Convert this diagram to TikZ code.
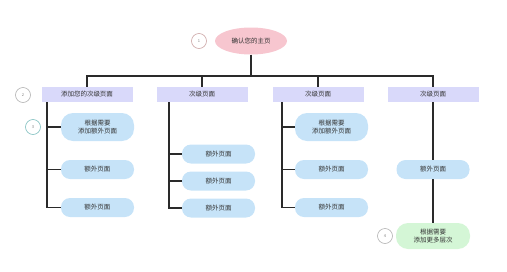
\documentclass[tikz,border=0pt]{standalone}
\usepackage{fontspec}
\setmainfont{Noto Sans CJK SC}
\usetikzlibrary{shapes.geometric}
\definecolor{pinkfill}{HTML}{F7C6CF}
\definecolor{lavfill}{HTML}{D9D9FA}
\definecolor{bluefill}{HTML}{C6E3F8}
\definecolor{greenfill}{HTML}{D4F6D6}
\definecolor{linec}{HTML}{2A2A2A}
\tikzset{
  lbl/.style={font=\fontsize{6.5}{8}\selectfont, text=black!80, align=center, inner sep=0pt},
  mainel/.style={ellipse, fill=pinkfill, minimum width=72pt, minimum height=27pt, lbl},
  lvtwo/.style={rectangle, fill=lavfill, minimum width=91pt, minimum height=15pt, lbl},
  pill/.style={rounded corners=9pt, fill=bluefill, minimum width=73pt, minimum height=19pt, lbl},
  tallpill/.style={pill, rounded corners=12pt, minimum height=28pt},
  greenpill/.style={rounded corners=12pt, fill=greenfill, minimum width=74pt, minimum height=26pt, lbl},
  numc/.style={circle, draw=#1, line width=0.6pt, minimum size=15pt, inner sep=0pt, font=\fontsize{4}{5}\selectfont, text=black!50},
  conn/.style={draw=linec, line width=1.1pt}
}
\begin{document}
\begin{tikzpicture}[x=1pt,y=-1pt]
\useasboundingbox (0,0) rectangle (507,271);
% top
\node[mainel] (top) at (251,41) {确认您的主页};
\node[numc=pink!60!gray] (n1) at (199,41) {1};
% level 2
\node[lvtwo] (s1) at (87,94.5) {添加您的次级页面};
\node[lvtwo] (s2) at (202,94.5) {次级页面};
\node[lvtwo] (s3) at (318,94.5) {次级页面};
\node[lvtwo] (s4) at (433,94.5) {次级页面};
\node[numc=gray!60] (n2) at (23,95) {2};
\coordinate (hb) at (251,76);
\coordinate (h1) at (87,76);
\coordinate (h2) at (202,76);
\coordinate (h3) at (318,76);
\coordinate (h4) at (433,76);
\draw[conn] (top.south) -- (hb);
\draw[conn] (s1.north) -- (h1) -- (h4) -- (s4.north);
\draw[conn] (h2) -- (s2.north);
\draw[conn] (h3) -- (s3.north);
% column 1
\node[tallpill] (a1) at (97.5,127) {根据需要\\添加额外页面};
\node[pill] (a2) at (97.5,169.5) {额外页面};
\node[pill] (a3) at (97.5,207.5) {额外页面};
\node[numc=teal!50] (n3) at (33,127) {3};
\coordinate (v1) at (47,102);
\draw[conn] (v1) |- (a3.west);
\draw[conn] (v1 |- a1.west) -- (a1.west);
\draw[conn] (v1 |- a2.west) -- (a2.west);
% column 2
\node[pill] (b1) at (218.5,154) {额外页面};
\node[pill] (b2) at (218.5,181) {额外页面};
\node[pill] (b3) at (218.5,208) {额外页面};
\coordinate (v2) at (169,102);
\draw[conn] (v2) |- (b3.west);
\draw[conn] (v2 |- b1.west) -- (b1.west);
\draw[conn] (v2 |- b2.west) -- (b2.west);
% column 3
\node[tallpill] (c1) at (331.5,127) {根据需要\\添加额外页面};
\node[pill] (c2) at (331.5,169.5) {额外页面};
\node[pill] (c3) at (331.5,207.5) {额外页面};
\coordinate (v3) at (282,102);
\draw[conn] (v3) |- (c3.west);
\draw[conn] (v3 |- c1.west) -- (c1.west);
\draw[conn] (v3 |- c2.west) -- (c2.west);
% column 4
\node[pill] (d1) at (433,169.5) {额外页面};
\node[greenpill] (d2) at (433,236) {根据需要\\添加更多层次};
\node[numc=gray!60] (n4) at (385,236) {4};
\draw[conn] (s4.south) -- (d1.north);
\draw[conn] (d1.south) -- (d2.north);
\end{tikzpicture}
\end{document}
